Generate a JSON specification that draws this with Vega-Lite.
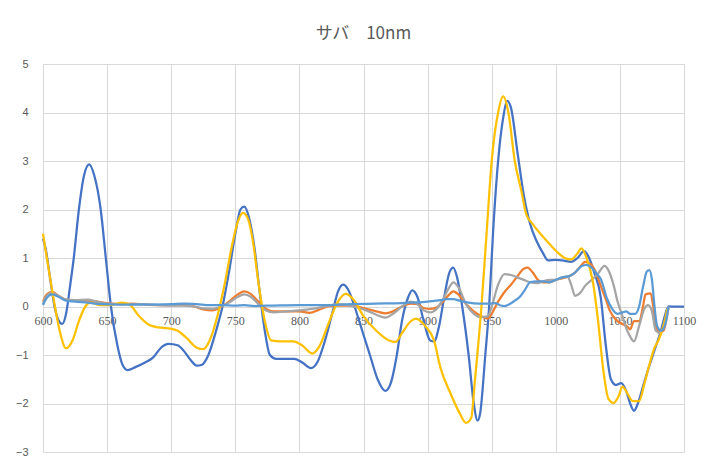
{
  "$schema": "https://vega.github.io/schema/vega-lite/v6.json",
  "autosize": "none",
  "width": 641,
  "height": 388,
  "padding": {"left": 43, "top": 64, "right": 24, "bottom": 9},
  "background": "#ffffff",
  "title": {"text": "サバ　10nm", "font": "Noto Sans CJK JP", "fontSize": 17, "fontWeight": "normal", "color": "#595959", "anchor": "middle", "offset": 15},
  "config": {"view": {"stroke": null}},
  "data": {"values": [
    {"s":"s1","x":600,"y":1.4},{"s":"s1","x":602,"y":1.2},{"s":"s1","x":606,"y":0.5},{"s":"s1","x":609,"y":0},{"s":"s1","x":612,"y":-0.28},{"s":"s1","x":615,"y":-0.36},{"s":"s1","x":618,"y":-0.15},{"s":"s1","x":621,"y":0.4},{"s":"s1","x":624,"y":1.0},{"s":"s1","x":628,"y":2.0},{"s":"s1","x":632,"y":2.7},{"s":"s1","x":636,"y":2.93},{"s":"s1","x":640,"y":2.7},{"s":"s1","x":645,"y":2.0},{"s":"s1","x":649,"y":1.0},{"s":"s1","x":653,"y":0},{"s":"s1","x":658,"y":-0.8},{"s":"s1","x":662,"y":-1.2},{"s":"s1","x":666,"y":-1.31},{"s":"s1","x":672,"y":-1.25},{"s":"s1","x":680,"y":-1.15},{"s":"s1","x":686,"y":-1.05},{"s":"s1","x":692,"y":-0.85},{"s":"s1","x":698,"y":-0.77},{"s":"s1","x":705,"y":-0.8},{"s":"s1","x":710,"y":-0.92},{"s":"s1","x":715,"y":-1.1},{"s":"s1","x":720,"y":-1.22},{"s":"s1","x":724,"y":-1.2},{"s":"s1","x":729,"y":-1.0},{"s":"s1","x":735,"y":-0.5},{"s":"s1","x":740,"y":0},{"s":"s1","x":745,"y":0.7},{"s":"s1","x":750,"y":1.5},{"s":"s1","x":754,"y":2.0},{"s":"s1","x":757,"y":2.06},{"s":"s1","x":761,"y":1.8},{"s":"s1","x":765,"y":1.2},{"s":"s1","x":769,"y":0.3},{"s":"s1","x":773,"y":-0.5},{"s":"s1","x":777,"y":-1.0},{"s":"s1","x":782,"y":-1.08},{"s":"s1","x":790,"y":-1.08},{"s":"s1","x":796,"y":-1.08},{"s":"s1","x":802,"y":-1.15},{"s":"s1","x":809,"y":-1.27},{"s":"s1","x":814,"y":-1.15},{"s":"s1","x":820,"y":-0.7},{"s":"s1","x":826,"y":-0.1},{"s":"s1","x":830,"y":0.3},{"s":"s1","x":834,"y":0.45},{"s":"s1","x":838,"y":0.35},{"s":"s1","x":843,"y":0},{"s":"s1","x":849,"y":-0.5},{"s":"s1","x":855,"y":-1.0},{"s":"s1","x":861,"y":-1.5},{"s":"s1","x":867,"y":-1.74},{"s":"s1","x":871,"y":-1.6},{"s":"s1","x":876,"y":-1.0},{"s":"s1","x":880,"y":-0.3},{"s":"s1","x":885,"y":0.2},{"s":"s1","x":888,"y":0.33},{"s":"s1","x":892,"y":0.2},{"s":"s1","x":897,"y":-0.3},{"s":"s1","x":902,"y":-0.7},{"s":"s1","x":905,"y":-0.72},{"s":"s1","x":909,"y":-0.4},{"s":"s1","x":913,"y":0.2},{"s":"s1","x":917,"y":0.7},{"s":"s1","x":920,"y":0.8},{"s":"s1","x":923,"y":0.6},{"s":"s1","x":927,"y":0},{"s":"s1","x":932,"y":-1.0},{"s":"s1","x":936,"y":-2.0},{"s":"s1","x":939,"y":-2.35},{"s":"s1","x":941,"y":-2.2},{"s":"s1","x":945,"y":-1.0},{"s":"s1","x":948,"y":0},{"s":"s1","x":951,"y":1.5},{"s":"s1","x":955,"y":3.0},{"s":"s1","x":959,"y":3.9},{"s":"s1","x":962,"y":4.24},{"s":"s1","x":965,"y":4.1},{"s":"s1","x":970,"y":3.2},{"s":"s1","x":975,"y":2.3},{"s":"s1","x":980,"y":1.7},{"s":"s1","x":985,"y":1.35},{"s":"s1","x":990,"y":1.1},{"s":"s1","x":994,"y":0.95},{"s":"s1","x":1000,"y":0.96},{"s":"s1","x":1005,"y":0.95},{"s":"s1","x":1012,"y":0.92},{"s":"s1","x":1017,"y":1.0},{"s":"s1","x":1022,"y":1.14},{"s":"s1","x":1026,"y":1.0},{"s":"s1","x":1030,"y":0.7},{"s":"s1","x":1035,"y":0.2},{"s":"s1","x":1039,"y":-0.8},{"s":"s1","x":1043,"y":-1.5},{"s":"s1","x":1047,"y":-1.62},{"s":"s1","x":1051,"y":-1.58},{"s":"s1","x":1055,"y":-1.75},{"s":"s1","x":1058,"y":-2.0},{"s":"s1","x":1061,"y":-2.15},{"s":"s1","x":1064,"y":-2.0},{"s":"s1","x":1068,"y":-1.65},{"s":"s1","x":1072,"y":-1.3},{"s":"s1","x":1077,"y":-0.9},{"s":"s1","x":1082,"y":-0.5},{"s":"s1","x":1085,"y":-0.2},{"s":"s1","x":1088,"y":0},{"s":"s1","x":1094,"y":0},{"s":"s1","x":1100,"y":0},

    {"s":"s2","x":600,"y":0.1},{"s":"s2","x":603,"y":0.25},{"s":"s2","x":607,"y":0.3},{"s":"s2","x":612,"y":0.22},{"s":"s2","x":618,"y":0.14},{"s":"s2","x":625,"y":0.12},{"s":"s2","x":635,"y":0.12},{"s":"s2","x":642,"y":0.1},{"s":"s2","x":650,"y":0.07},{"s":"s2","x":660,"y":0.05},{"s":"s2","x":670,"y":0.06},{"s":"s2","x":680,"y":0.04},{"s":"s2","x":690,"y":0.03},{"s":"s2","x":700,"y":0.03},{"s":"s2","x":710,"y":0.03},{"s":"s2","x":718,"y":0},{"s":"s2","x":725,"y":-0.06},{"s":"s2","x":732,"y":-0.08},{"s":"s2","x":738,"y":-0.02},{"s":"s2","x":745,"y":0.1},{"s":"s2","x":752,"y":0.25},{"s":"s2","x":757,"y":0.31},{"s":"s2","x":762,"y":0.26},{"s":"s2","x":768,"y":0.1},{"s":"s2","x":774,"y":-0.05},{"s":"s2","x":780,"y":-0.1},{"s":"s2","x":790,"y":-0.1},{"s":"s2","x":800,"y":-0.1},{"s":"s2","x":808,"y":-0.13},{"s":"s2","x":815,"y":-0.07},{"s":"s2","x":822,"y":0},{"s":"s2","x":830,"y":0.02},{"s":"s2","x":838,"y":0.02},{"s":"s2","x":845,"y":0},{"s":"s2","x":852,"y":-0.05},{"s":"s2","x":860,"y":-0.1},{"s":"s2","x":867,"y":-0.14},{"s":"s2","x":873,"y":-0.1},{"s":"s2","x":880,"y":0},{"s":"s2","x":887,"y":0.06},{"s":"s2","x":892,"y":0.05},{"s":"s2","x":897,"y":-0.03},{"s":"s2","x":902,"y":-0.05},{"s":"s2","x":907,"y":-0.02},{"s":"s2","x":912,"y":0.1},{"s":"s2","x":917,"y":0.25},{"s":"s2","x":920,"y":0.31},{"s":"s2","x":924,"y":0.25},{"s":"s2","x":930,"y":0.05},{"s":"s2","x":936,"y":-0.1},{"s":"s2","x":942,"y":-0.2},{"s":"s2","x":947,"y":-0.25},{"s":"s2","x":950,"y":-0.15},{"s":"s2","x":955,"y":0.1},{"s":"s2","x":960,"y":0.3},{"s":"s2","x":965,"y":0.45},{"s":"s2","x":970,"y":0.62},{"s":"s2","x":975,"y":0.78},{"s":"s2","x":978,"y":0.8},{"s":"s2","x":982,"y":0.7},{"s":"s2","x":986,"y":0.55},{"s":"s2","x":990,"y":0.5},{"s":"s2","x":995,"y":0.5},{"s":"s2","x":1000,"y":0.55},{"s":"s2","x":1005,"y":0.58},{"s":"s2","x":1010,"y":0.62},{"s":"s2","x":1015,"y":0.7},{"s":"s2","x":1019,"y":0.82},{"s":"s2","x":1023,"y":0.92},{"s":"s2","x":1027,"y":0.88},{"s":"s2","x":1031,"y":0.72},{"s":"s2","x":1035,"y":0.43},{"s":"s2","x":1039,"y":0.15},{"s":"s2","x":1042,"y":-0.08},{"s":"s2","x":1048,"y":-0.3},{"s":"s2","x":1052,"y":-0.36},{"s":"s2","x":1056,"y":-0.42},{"s":"s2","x":1058,"y":-0.47},{"s":"s2","x":1061,"y":-0.3},{"s":"s2","x":1065,"y":-0.3},{"s":"s2","x":1068,"y":0},{"s":"s2","x":1070,"y":0.25},{"s":"s2","x":1074,"y":0.27},{"s":"s2","x":1076,"y":0},{"s":"s2","x":1078,"y":-0.4},{"s":"s2","x":1081,"y":-0.52},{"s":"s2","x":1084,"y":-0.5},{"s":"s2","x":1086,"y":-0.3},{"s":"s2","x":1088,"y":0},

    {"s":"s3","x":600,"y":0.05},{"s":"s3","x":603,"y":0.22},{"s":"s3","x":607,"y":0.28},{"s":"s3","x":612,"y":0.22},{"s":"s3","x":618,"y":0.14},{"s":"s3","x":625,"y":0.13},{"s":"s3","x":635,"y":0.14},{"s":"s3","x":642,"y":0.1},{"s":"s3","x":650,"y":0.06},{"s":"s3","x":660,"y":0.05},{"s":"s3","x":670,"y":0.05},{"s":"s3","x":680,"y":0.05},{"s":"s3","x":690,"y":0.03},{"s":"s3","x":700,"y":0.02},{"s":"s3","x":710,"y":0.02},{"s":"s3","x":718,"y":0},{"s":"s3","x":725,"y":-0.04},{"s":"s3","x":732,"y":-0.05},{"s":"s3","x":738,"y":-0.01},{"s":"s3","x":745,"y":0.08},{"s":"s3","x":752,"y":0.2},{"s":"s3","x":757,"y":0.25},{"s":"s3","x":762,"y":0.2},{"s":"s3","x":768,"y":0.05},{"s":"s3","x":774,"y":-0.08},{"s":"s3","x":780,"y":-0.12},{"s":"s3","x":790,"y":-0.1},{"s":"s3","x":800,"y":-0.08},{"s":"s3","x":810,"y":-0.05},{"s":"s3","x":820,"y":0},{"s":"s3","x":830,"y":0.05},{"s":"s3","x":838,"y":0.03},{"s":"s3","x":845,"y":-0.02},{"s":"s3","x":852,"y":-0.08},{"s":"s3","x":860,"y":-0.17},{"s":"s3","x":867,"y":-0.23},{"s":"s3","x":873,"y":-0.15},{"s":"s3","x":880,"y":0},{"s":"s3","x":887,"y":0.1},{"s":"s3","x":892,"y":0.05},{"s":"s3","x":897,"y":-0.08},{"s":"s3","x":902,"y":-0.12},{"s":"s3","x":907,"y":-0.05},{"s":"s3","x":912,"y":0.15},{"s":"s3","x":917,"y":0.4},{"s":"s3","x":920,"y":0.5},{"s":"s3","x":924,"y":0.4},{"s":"s3","x":930,"y":0.05},{"s":"s3","x":936,"y":-0.15},{"s":"s3","x":942,"y":-0.22},{"s":"s3","x":947,"y":-0.2},{"s":"s3","x":950,"y":0},{"s":"s3","x":955,"y":0.45},{"s":"s3","x":960,"y":0.67},{"s":"s3","x":965,"y":0.65},{"s":"s3","x":970,"y":0.6},{"s":"s3","x":975,"y":0.55},{"s":"s3","x":980,"y":0.5},{"s":"s3","x":985,"y":0.48},{"s":"s3","x":990,"y":0.52},{"s":"s3","x":995,"y":0.55},{"s":"s3","x":1000,"y":0.55},{"s":"s3","x":1005,"y":0.6},{"s":"s3","x":1009,"y":0.62},{"s":"s3","x":1012,"y":0.45},{"s":"s3","x":1015,"y":0.22},{"s":"s3","x":1019,"y":0.28},{"s":"s3","x":1023,"y":0.43},{"s":"s3","x":1028,"y":0.55},{"s":"s3","x":1033,"y":0.68},{"s":"s3","x":1038,"y":0.84},{"s":"s3","x":1041,"y":0.75},{"s":"s3","x":1045,"y":0.45},{"s":"s3","x":1048,"y":0.12},{"s":"s3","x":1052,"y":-0.2},{"s":"s3","x":1055,"y":-0.45},{"s":"s3","x":1058,"y":-0.62},{"s":"s3","x":1061,"y":-0.72},{"s":"s3","x":1065,"y":-0.4},{"s":"s3","x":1069,"y":-0.05},{"s":"s3","x":1072,"y":0.03},{"s":"s3","x":1075,"y":-0.1},{"s":"s3","x":1078,"y":-0.5},{"s":"s3","x":1082,"y":-0.55},{"s":"s3","x":1085,"y":-0.3},{"s":"s3","x":1088,"y":0},

    {"s":"s4","x":600,"y":1.5},{"s":"s4","x":603,"y":1.0},{"s":"s4","x":608,"y":0.2},{"s":"s4","x":613,"y":-0.5},{"s":"s4","x":618,"y":-0.86},{"s":"s4","x":623,"y":-0.7},{"s":"s4","x":628,"y":-0.3},{"s":"s4","x":633,"y":0},{"s":"s4","x":637,"y":0.08},{"s":"s4","x":645,"y":0.03},{"s":"s4","x":652,"y":0.03},{"s":"s4","x":662,"y":0.08},{"s":"s4","x":668,"y":0.03},{"s":"s4","x":675,"y":-0.2},{"s":"s4","x":683,"y":-0.38},{"s":"s4","x":690,"y":-0.43},{"s":"s4","x":698,"y":-0.45},{"s":"s4","x":705,"y":-0.5},{"s":"s4","x":712,"y":-0.65},{"s":"s4","x":720,"y":-0.85},{"s":"s4","x":725,"y":-0.88},{"s":"s4","x":730,"y":-0.7},{"s":"s4","x":736,"y":-0.2},{"s":"s4","x":742,"y":0.5},{"s":"s4","x":747,"y":1.2},{"s":"s4","x":752,"y":1.75},{"s":"s4","x":756,"y":1.93},{"s":"s4","x":760,"y":1.8},{"s":"s4","x":764,"y":1.3},{"s":"s4","x":768,"y":0.5},{"s":"s4","x":773,"y":-0.3},{"s":"s4","x":778,"y":-0.7},{"s":"s4","x":785,"y":-0.72},{"s":"s4","x":795,"y":-0.72},{"s":"s4","x":802,"y":-0.8},{"s":"s4","x":810,"y":-0.97},{"s":"s4","x":815,"y":-0.85},{"s":"s4","x":822,"y":-0.4},{"s":"s4","x":829,"y":0.05},{"s":"s4","x":836,"y":0.26},{"s":"s4","x":842,"y":0.15},{"s":"s4","x":850,"y":-0.2},{"s":"s4","x":860,"y":-0.5},{"s":"s4","x":870,"y":-0.7},{"s":"s4","x":875,"y":-0.73},{"s":"s4","x":880,"y":-0.55},{"s":"s4","x":887,"y":-0.3},{"s":"s4","x":891,"y":-0.25},{"s":"s4","x":898,"y":-0.4},{"s":"s4","x":905,"y":-0.7},{"s":"s4","x":910,"y":-1.26},{"s":"s4","x":918,"y":-1.8},{"s":"s4","x":925,"y":-2.2},{"s":"s4","x":930,"y":-2.4},{"s":"s4","x":934,"y":-2.3},{"s":"s4","x":937,"y":-1.5},{"s":"s4","x":942,"y":0},{"s":"s4","x":946,"y":1.5},{"s":"s4","x":950,"y":3.0},{"s":"s4","x":955,"y":4.0},{"s":"s4","x":959,"y":4.33},{"s":"s4","x":963,"y":4.0},{"s":"s4","x":968,"y":3.0},{"s":"s4","x":973,"y":2.4},{"s":"s4","x":977,"y":1.9},{"s":"s4","x":982,"y":1.7},{"s":"s4","x":988,"y":1.5},{"s":"s4","x":993,"y":1.35},{"s":"s4","x":1000,"y":1.15},{"s":"s4","x":1007,"y":1.0},{"s":"s4","x":1012,"y":0.97},{"s":"s4","x":1017,"y":1.1},{"s":"s4","x":1020,"y":1.2},{"s":"s4","x":1024,"y":1.0},{"s":"s4","x":1029,"y":0.5},{"s":"s4","x":1033,"y":-0.3},{"s":"s4","x":1037,"y":-1.3},{"s":"s4","x":1041,"y":-1.9},{"s":"s4","x":1045,"y":-1.99},{"s":"s4","x":1049,"y":-1.85},{"s":"s4","x":1052,"y":-1.65},{"s":"s4","x":1056,"y":-1.8},{"s":"s4","x":1060,"y":-1.95},{"s":"s4","x":1065,"y":-1.95},{"s":"s4","x":1069,"y":-1.6},{"s":"s4","x":1072,"y":-1.3},{"s":"s4","x":1077,"y":-0.85},{"s":"s4","x":1080,"y":-0.7},{"s":"s4","x":1084,"y":-0.4},{"s":"s4","x":1087,"y":-0.05},

    {"s":"s5","x":600,"y":0.03},{"s":"s5","x":603,"y":0.18},{"s":"s5","x":607,"y":0.25},{"s":"s5","x":612,"y":0.2},{"s":"s5","x":618,"y":0.12},{"s":"s5","x":625,"y":0.1},{"s":"s5","x":635,"y":0.08},{"s":"s5","x":645,"y":0.05},{"s":"s5","x":660,"y":0.04},{"s":"s5","x":680,"y":0.04},{"s":"s5","x":700,"y":0.05},{"s":"s5","x":710,"y":0.06},{"s":"s5","x":720,"y":0.05},{"s":"s5","x":730,"y":0.03},{"s":"s5","x":740,"y":0.03},{"s":"s5","x":750,"y":0.02},{"s":"s5","x":757,"y":0.03},{"s":"s5","x":765,"y":0.01},{"s":"s5","x":780,"y":0.02},{"s":"s5","x":800,"y":0.03},{"s":"s5","x":820,"y":0.03},{"s":"s5","x":840,"y":0.05},{"s":"s5","x":860,"y":0.06},{"s":"s5","x":880,"y":0.07},{"s":"s5","x":900,"y":0.1},{"s":"s5","x":910,"y":0.13},{"s":"s5","x":915,"y":0.15},{"s":"s5","x":920,"y":0.15},{"s":"s5","x":925,"y":0.12},{"s":"s5","x":932,"y":0.08},{"s":"s5","x":940,"y":0.06},{"s":"s5","x":948,"y":0.06},{"s":"s5","x":953,"y":0.07},{"s":"s5","x":957,"y":0.02},{"s":"s5","x":960,"y":0.01},{"s":"s5","x":964,"y":0.05},{"s":"s5","x":968,"y":0.12},{"s":"s5","x":972,"y":0.2},{"s":"s5","x":976,"y":0.35},{"s":"s5","x":980,"y":0.5},{"s":"s5","x":985,"y":0.52},{"s":"s5","x":990,"y":0.52},{"s":"s5","x":995,"y":0.5},{"s":"s5","x":1000,"y":0.55},{"s":"s5","x":1005,"y":0.6},{"s":"s5","x":1010,"y":0.62},{"s":"s5","x":1015,"y":0.7},{"s":"s5","x":1020,"y":0.83},{"s":"s5","x":1024,"y":0.86},{"s":"s5","x":1028,"y":0.8},{"s":"s5","x":1032,"y":0.67},{"s":"s5","x":1035,"y":0.57},{"s":"s5","x":1040,"y":0.16},{"s":"s5","x":1044,"y":-0.05},{"s":"s5","x":1048,"y":-0.15},{"s":"s5","x":1052,"y":-0.12},{"s":"s5","x":1055,"y":-0.1},{"s":"s5","x":1058,"y":-0.15},{"s":"s5","x":1062,"y":-0.15},{"s":"s5","x":1065,"y":0},{"s":"s5","x":1068,"y":0.4},{"s":"s5","x":1071,"y":0.72},{"s":"s5","x":1073,"y":0.75},{"s":"s5","x":1075,"y":0.55},{"s":"s5","x":1077,"y":0},{"s":"s5","x":1079,"y":-0.4},{"s":"s5","x":1082,"y":-0.5},{"s":"s5","x":1085,"y":-0.4},{"s":"s5","x":1088,"y":0}
  ]},
  "mark": {"type": "line", "interpolate": "monotone", "strokeWidth": 2.25},
  "encoding": {
    "x": {"field": "x", "type": "quantitative", "title": null,
      "scale": {"domain": [600, 1100], "nice": false, "zero": false},
      "axis": {"values": [600,650,700,750,800,850,900,950,1000,1050,1100], "format": "d", "grid": true, "gridColor": "#d9d9d9", "domain": false, "ticks": false, "offset": -146.3, "labelPadding": 10, "labelFont": "Liberation Serif", "labelFontSize": 12, "labelColor": "#595959", "labelFlush": false}},
    "y": {"field": "y", "type": "quantitative", "title": null,
      "scale": {"domain": [-3, 5], "nice": false},
      "axis": {"values": [-3,-2,-1,0,1,2,3,4,5], "grid": true, "gridColor": "#d9d9d9", "domain": false, "ticks": false, "labelPadding": 15, "labelFont": "Liberation Sans", "labelFontSize": 11, "labelColor": "#595959"}},
    "color": {"field": "s", "type": "nominal", "legend": null,
      "scale": {"domain": ["s1","s2","s3","s4","s5"], "range": ["#4472C4","#ED7D31","#A5A5A5","#FFC000","#5B9BD5"]}}
  }
}
